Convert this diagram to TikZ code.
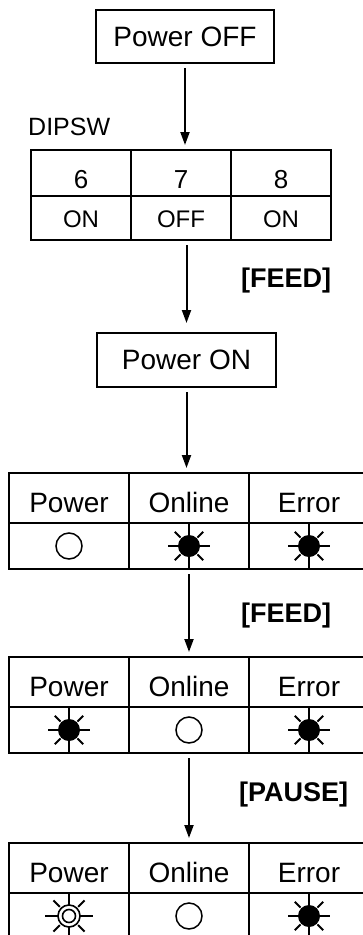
\documentclass[tikz,border=0pt]{standalone}
\usepackage{fontspec}
\setmainfont{Liberation Sans}
\usetikzlibrary{arrows.meta,positioning,calc}
\tikzset{box/.style={draw,line width=1.8pt,inner sep=0pt,outer sep=0pt,minimum width=178pt,
    minimum height=53pt,font=\fontsize{28}{32}\selectfont},
  swcell/.style={draw,line width=1.8pt,inner sep=0pt,outer sep=0pt,minimum width=100pt,
    text depth=0pt,font=\fontsize{24}{28}\selectfont},
  hdcell/.style={draw,line width=1.8pt,inner sep=0pt,outer sep=0pt,minimum width=120pt,
    minimum height=50pt,text height=28pt,text depth=0pt,font=\fontsize{28}{32}\selectfont},
  lampcell/.style={hdcell,minimum height=46pt},
  arrow/.style={-{Triangle[length=13pt,width=9pt]},line width=2pt,shorten <=5pt,shorten >=5pt},
  keylabel/.style={anchor=west,inner sep=0pt,font=\fontsize{27}{30}\selectfont\bfseries},
  rayline/.style={line width=2pt},
  ledoff/.pic={\draw[line width=1.5pt] (0,0) circle (13pt);},
  ledon/.pic={\fill (0,0) circle (11pt);
    \foreach \a in {0,180} \draw[rayline] (\a:9pt) -- (\a:21pt);
    \foreach \a in {90,270} \draw[rayline] (\a:9pt) -- (\a:23pt);
    \foreach \a in {45,135,225,315} \draw[rayline] (\a:12pt) -- (\a:20pt);},
  ledflash/.pic={\draw[line width=1.6pt] (0,0) circle (11pt) (0,0) circle (6.5pt);
    \foreach \a in {0,180} \draw[rayline] (\a:11pt) -- (\a:24pt);
    \foreach \a in {90,270} \draw[rayline] (\a:11pt) -- (\a:23pt);
    \foreach \a in {45,135,225,315} \draw[rayline] (\a:13pt) -- (\a:22pt);}}
\begin{document}
\begin{tikzpicture}[x=1pt,y=-1pt]
\clip (0,0) rectangle (363,935);
\node[box] (off) at (185,36.5) {Power OFF};
% DIP switch settings
\node[swcell,minimum height=46pt,text height=30pt,font=\fontsize{26}{30}\selectfont] (sw6) at (81,173) {6};
\node[swcell,minimum height=46pt,text height=30pt,font=\fontsize{26}{30}\selectfont,right=0pt of sw6] (sw7) {7};
\node[swcell,minimum height=46pt,text height=30pt,font=\fontsize{26}{30}\selectfont,right=0pt of sw7] (sw8) {8};
\node[swcell,minimum height=44pt,text height=18pt,below=0pt of sw6] (sw6s) {ON};
\node[swcell,minimum height=44pt,text height=18pt,below=0pt of sw7] (sw7s) {OFF};
\node[swcell,minimum height=44pt,text height=18pt,below=0pt of sw8] (sw8s) {ON};
\node[anchor=base west,inner sep=0pt,font=\fontsize{25}{28}\selectfont] (dipsw) at ($(sw6.north west)+(-3,-15)$) {DIPSW};
\node[box,minimum width=179pt,minimum height=54pt] (on) at (186.5,360) {Power ON};
% lamp states
\node[hdcell] (pwrA) at (69,498) {Power};
\node[hdcell,right=0pt of pwrA] (onlA) {Online};
\node[hdcell,right=0pt of onlA] (errA) {Error};
\node[lampcell,below=0pt of pwrA] (pwrAl) {};
\node[lampcell,below=0pt of onlA] (onlAl) {};
\node[lampcell,below=0pt of errA] (errAl) {};
\pic at (pwrAl) {ledoff};
\pic at (onlAl) {ledon};
\pic at (errAl) {ledon};
\node[hdcell] (pwrB) at (69,682) {Power};
\node[hdcell,right=0pt of pwrB] (onlB) {Online};
\node[hdcell,right=0pt of onlB] (errB) {Error};
\node[lampcell,below=0pt of pwrB] (pwrBl) {};
\node[lampcell,below=0pt of onlB] (onlBl) {};
\node[lampcell,below=0pt of errB] (errBl) {};
\pic at (pwrBl) {ledon};
\pic at (onlBl) {ledoff};
\pic at (errBl) {ledon};
\node[hdcell] (pwrC) at (69,868) {Power};
\node[hdcell,right=0pt of pwrC] (onlC) {Online};
\node[hdcell,right=0pt of onlC] (errC) {Error};
\node[lampcell,below=0pt of pwrC] (pwrCl) {};
\node[lampcell,below=0pt of onlC] (onlCl) {};
\node[lampcell,below=0pt of errC] (errCl) {};
\pic at (pwrCl) {ledflash};
\pic at (onlCl) {ledoff};
\pic at (errCl) {ledon};
% key presses
\node[keylabel] (feedA) at (241,281) {[FEED]};
\node[keylabel] (feedB) at (241,616) {[FEED]};
\node[keylabel] (pause) at (239,795) {[PAUSE]};
\draw[arrow] (off.south) -- (off.south |- sw7.north);
\draw[arrow,shorten >=10pt] (on.north |- sw7s.south) -- (on.north);
\draw[arrow] (on.south) -- (on.south |- onlA.north);
\draw[arrow] (onlAl.south) -- (onlB.north);
\draw[arrow] (onlBl.south) -- (onlC.north);
\end{tikzpicture}
\end{document}
